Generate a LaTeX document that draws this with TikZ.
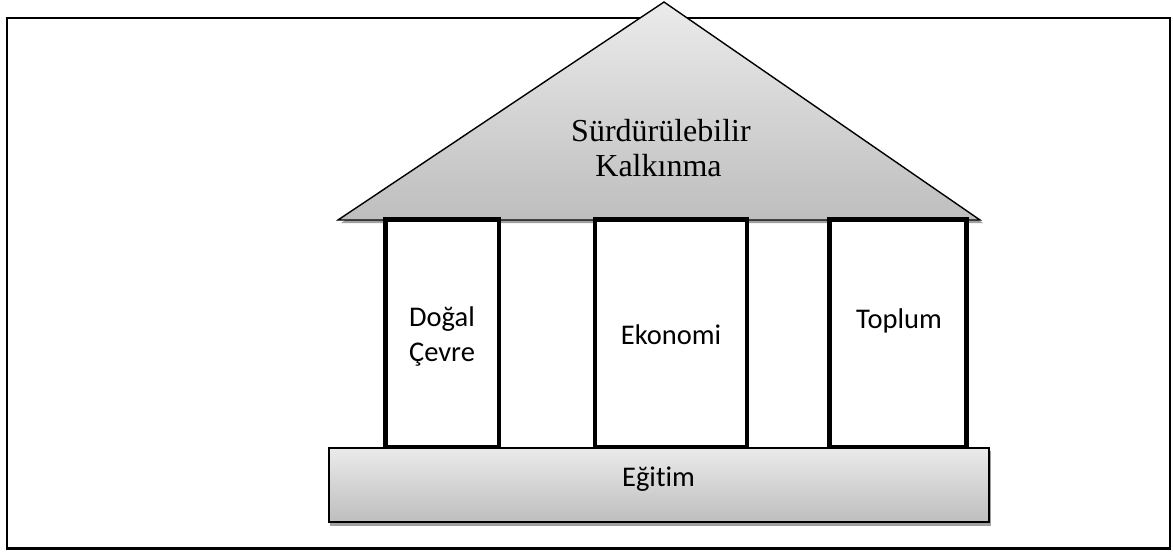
\documentclass[tikz,border=0pt]{standalone}
\usepackage{fontspec}
\setmainfont{Liberation Serif}
\newfontfamily\calfont[RawFeature=-liga]{Carlito}
\definecolor{shadowgray}{HTML}{A0A0A0}
\definecolor{lightshade}{HTML}{EBEBEB}
\definecolor{darkshade}{HTML}{BEBEBE}
\tikzset{
  frameline/.style={draw=black, line width=2.3pt},
  roofshape/.style={draw=black, line width=1.4pt, line join=miter, top color=lightshade, bottom color=darkshade},
  pillarbox/.style={draw=black, fill=white, line width=4.5pt},
  slabbox/.style={draw=black, line width=2pt, top color=lightshade, bottom color=darkshade},
  shadowfill/.style={fill=shadowgray, draw=none},
  rooftext/.style={font=\fontsize{32}{35}\selectfont, inner sep=0pt, anchor=base},
  pillartext/.style={font=\calfont\fontsize{28.5}{35}\selectfont, inner sep=0pt, anchor=base}
}
\begin{document}
\begin{tikzpicture}[x=1pt, y=-1pt]
\useasboundingbox (0,0) rectangle (1173,552);
% outer frame
\draw[frameline] (7,17.7) rectangle (1170.3,548.5);
% roof with shadow
\fill[shadowfill] (341,223) -- (667,5) -- (983,223) -- cycle;
\path[roofshape] (338,220) -- (664,2) -- (980,220) -- cycle;
\node[rooftext] (sk1) at (661,141) {Sürdürülebilir};
\node[rooftext] (sk2) at (658.5,176) {Kalkınma};
% pillars
\draw[pillarbox] (385.5,219.5) rectangle (499,447);
\draw[pillarbox] (595,219.5) rectangle (747,447);
\draw[pillarbox] (829.5,219.5) rectangle (966.5,447);
\node[pillartext] (dc1) at (442,326.7) {Doğal};
\node[pillartext] (dc2) at (442,361.7) {Çevre};
\node[pillartext] (eko) at (671,344) {Ekonomi};
\node[pillartext] (top) at (899,328) {Toplum};
% base slab with shadow
\fill[shadowfill] (330,451) rectangle (990.5,526);
\path[slabbox] (328.5,447.5) rectangle (988.5,521.5);
\node[pillartext] (egt) at (658.5,486) {Eğitim};
\end{tikzpicture}
\end{document}
